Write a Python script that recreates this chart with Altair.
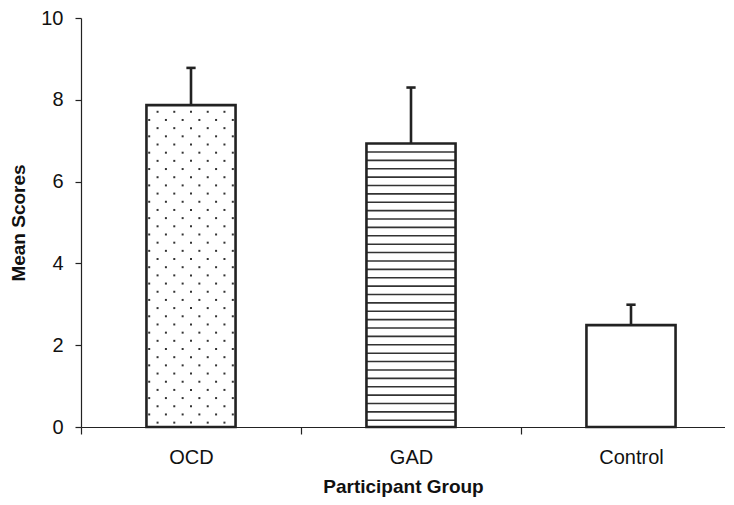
import altair as alt
import pandas as pd

# ---- data ----
groups = ["OCD", "GAD", "Control"]
means = [7.87, 6.93, 2.49]
errors = [0.91, 1.37, 0.50]
patterns = ["dots", "hlines", "none"]

FONT = "Liberation Sans"
INK = "#222222"
HALF = 0.2025          # half bar width in band units
CAP = 0.021            # half cap width in band units
PLOT_W = 644
BAND_PX = 220          # the reference's band is wider; the plot is cropped at the right

bars = pd.DataFrame({
    "group": groups,
    "mean": means,
    "upper": [m + e for m, e in zip(means, errors)],
    "center": [i + 0.5 for i in range(len(groups))],
})
bars["left"] = bars["center"] - HALF
bars["right"] = bars["center"] + HALF
bars["capl"] = bars["center"] - CAP
bars["capr"] = bars["center"] + CAP
bars["zero"] = 0.0

# ---- fill patterns (decoration) ----
dot_rows = []
line_rows = []
DX = 0.076   # dot spacing, band units
DY = 0.2     # dot row spacing, value units
LY = 0.205   # hatch spacing, value units
for i, (m, p) in enumerate(zip(means, patterns)):
    c = i + 0.5
    if p == "dots":
        k = 0
        y = m - 0.163
        while y > 0.08:
            offs = [j * DX for j in range(-2, 3)] if k % 2 == 0 else [(j + 0.5) * DX for j in range(-3, 3)]
            for o in offs:
                dot_rows.append({"x": c + o, "y": y})
            k += 1
            y = m - 0.163 - k * DY
    elif p == "hlines":
        k = 1
        y = m - LY
        while y > 0.05:
            line_rows.append({"x": c - HALF, "x2": c + HALF, "y": y})
            k += 1
            y = m - k * LY
dots = pd.DataFrame(dot_rows)
hlines = pd.DataFrame(line_rows)

label_expr = "datum.value < %d ? [%s][datum.value] : ''" % (
    len(groups), ",".join("'%s'" % g for g in groups))

xscale = alt.Scale(domain=[0, PLOT_W / BAND_PX], nice=False, zero=False)
yscale = alt.Scale(domain=[0, 10], nice=False)

xaxis = alt.Axis(
    values=list(range(len(groups))), labelExpr=label_expr,
    labelOffset=BAND_PX / 2, tickSize=7, labelPadding=13, labelFlush=False,
    labelBound=False, labelOverlap=False, labelAlign="center",
    title="Participant Group", titlePadding=10, grid=False,
)
yaxis = alt.Axis(
    values=[0, 2, 4, 6, 8, 10], tickSize=6, labelPadding=12, grid=False,
    title="Mean Scores", titlePadding=12,
)

fill = alt.Chart(bars).mark_rect(fill="white", strokeWidth=0).encode(
    x=alt.X("left:Q", scale=xscale, axis=xaxis),
    x2="right:Q",
    y=alt.Y("mean:Q", scale=yscale, axis=yaxis),
    y2="zero:Q",
)

dot_layer = alt.Chart(dots).mark_square(size=4, color="#333333", opacity=1).encode(
    x=alt.X("x:Q", scale=xscale),
    y=alt.Y("y:Q", scale=yscale),
)

line_layer = alt.Chart(hlines).mark_rule(color="#333333", strokeWidth=1.6).encode(
    x=alt.X("x:Q", scale=xscale),
    x2="x2:Q",
    y=alt.Y("y:Q", scale=yscale),
)

stem = alt.Chart(bars).mark_rule(color=INK, strokeWidth=2.6).encode(
    x=alt.X("center:Q", scale=xscale),
    y=alt.Y("mean:Q", scale=yscale),
    y2="upper:Q",
)

cap = alt.Chart(bars).mark_rule(color=INK, strokeWidth=2.6).encode(
    x=alt.X("capl:Q", scale=xscale),
    x2="capr:Q",
    y=alt.Y("upper:Q", scale=yscale),
)

border = alt.Chart(bars).mark_rect(fillOpacity=0, stroke=INK, strokeWidth=2.6).encode(
    x=alt.X("left:Q", scale=xscale),
    x2="right:Q",
    y=alt.Y("mean:Q", scale=yscale),
    y2="zero:Q",
)

chart = alt.layer(fill, dot_layer, line_layer, stem, cap, border).properties(
    width=PLOT_W, height=409,
    padding={"left": 73, "top": 10, "right": 0, "bottom": 70},
    autosize=alt.AutoSizeParams(type="none"),
    background="white",
).configure_view(strokeWidth=0).configure_axis(
    domainColor=INK, tickColor=INK, domainWidth=1.2, tickWidth=1.2,
    labelFont=FONT, labelFontSize=20, labelColor="#111111",
    titleFont=FONT, titleFontSize=19, titleFontWeight="bold", titleColor="#111111",
)

chart.save("out.html", embed_options={"renderer": "svg", "actions": False})
